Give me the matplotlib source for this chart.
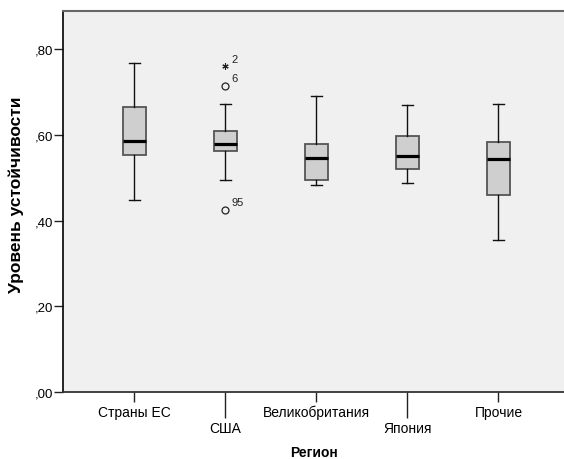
import matplotlib.pyplot as plt
from matplotlib.ticker import FuncFormatter

# stability level by region (box summaries)
regions = ["Страны ЕС", "США", "Великобритания", "Япония", "Прочие"]
whisker_low = [0.449, 0.494, 0.482, 0.487, 0.355]
q1 = [0.553, 0.562, 0.495, 0.520, 0.459]
medians = [0.585, 0.578, 0.546, 0.551, 0.544]
q3 = [0.666, 0.609, 0.579, 0.597, 0.583]
whisker_high = [0.767, 0.673, 0.690, 0.670, 0.672]

# outliers (USA only): circles and one extreme value
outlier_values = [0.715, 0.425]
outlier_ids = ["6", "95"]
extreme_values = [0.760]
extreme_ids = ["2"]

plt.rcParams["font.family"] = ["Liberation Sans", "DejaVu Sans"]

fig = plt.figure(figsize=(5.64, 4.60), dpi=100)
ax = fig.add_axes([63.3 / 564, 67 / 460, 1 - 63.3 / 564, 381 / 460])
ax.set_facecolor("#f0f0f0")

stats = []
for i, name in enumerate(regions):
    stats.append({
        "label": name,
        "whislo": whisker_low[i],
        "q1": q1[i],
        "med": medians[i],
        "q3": q3[i],
        "whishi": whisker_high[i],
        "fliers": [],
    })

positions = list(range(1, len(regions) + 1))
ax.bxp(stats, positions=positions, widths=0.253, patch_artist=True,
       showfliers=False,
       boxprops=dict(facecolor="#cfcfcf", edgecolor="#555555", linewidth=1.3),
       medianprops=dict(color="black", linewidth=2.3),
       whiskerprops=dict(color="#111111", linewidth=1.0),
       capprops=dict(color="#111111", linewidth=1.0))

usa = positions[1]
ax.plot([usa] * len(outlier_values), outlier_values, linestyle="none",
        marker="o", markersize=5, markerfacecolor="none",
        markeredgecolor="#222222", markeredgewidth=0.9)
ax.plot([usa] * len(extreme_values), extreme_values, linestyle="none",
        marker=(6, 2, 0), markersize=4.5, markeredgecolor="#222222",
        markeredgewidth=0.8)
for v, t in zip(outlier_values + extreme_values, outlier_ids + extreme_ids):
    ax.annotate(t, (usa, v), xytext=(4.3, 2), textcoords="offset points",
                ha="left", va="bottom", fontsize=8, color="#222222")

ax.set_xlim(0.22, 5.72)
ax.set_ylim(0, 0.889)

# staggered category labels: odd ones on short ticks, even ones on long ticks
ax.set_xticks(positions[0::2], labels=regions[0::2])
ax.set_xticks(positions[1::2], labels=regions[1::2], minor=True)
ax.tick_params(axis="x", which="major", length=7.2, width=1.0, pad=2,
               labelsize=10, color="#222222")
ax.tick_params(axis="x", which="minor", length=19, width=1.0, pad=2,
               labelsize=10, color="#222222")

ax.set_yticks([0, 0.2, 0.4, 0.6, 0.8])
ax.yaxis.set_major_formatter(
    FuncFormatter(lambda v, p: f"{v:.2f}".lstrip("0").replace(".", ",")))
ax.tick_params(axis="y", length=6.5, width=1.0, pad=1, labelsize=9.5,
               color="#222222")

ax.spines["right"].set_visible(False)
ax.spines["left"].set_color("black")
ax.spines["left"].set_linewidth(1.2)
ax.spines["bottom"].set_color("#333333")
ax.spines["bottom"].set_linewidth(1.3)
ax.spines["top"].set_color("#666666")
ax.spines["top"].set_linewidth(1.5)

ax.set_ylabel("Уровень устойчивости", fontsize=12.5, fontweight="bold",
              va="center")
ax.yaxis.set_label_coords(-0.0935, 0.52)
ax.set_xlabel("Регион", fontsize=10, fontweight="bold", va="center")
ax.xaxis.set_label_coords(0.5, -0.1575)

fig.savefig("out.png", dpi=100)
